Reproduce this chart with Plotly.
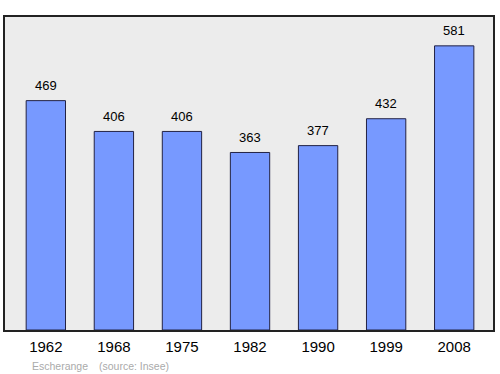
import plotly.graph_objects as go

years = ["1962", "1968", "1975", "1982", "1990", "1999", "2008"]
population = [469, 406, 406, 363, 377, 432, 581]
footer_place = "Escherange"
footer_source = "(source: Insee)"

xs = list(range(len(years)))

fig = go.Figure()
fig.add_trace(go.Bar(
    x=xs, y=population, width=0.578,
    marker=dict(color="#7799ff", line=dict(color="#222244", width=1)),
    hoverinfo="skip",
))

for x, v in zip(xs, population):
    fig.add_annotation(x=x, y=v, text=str(v), showarrow=False, yshift=15,
                       font=dict(family="Liberation Sans, Arial", size=13, color="#000"))

fig.update_layout(
    width=500, height=374,
    margin=dict(l=5, r=5, t=17, b=44),
    paper_bgcolor="white", plot_bgcolor="#ececec",
    showlegend=False,
    xaxis=dict(range=[-0.6, 6.57], tickmode="array", tickvals=xs, ticktext=years,
               showgrid=False, zeroline=False, showline=True, mirror=True,
               linecolor="#222", linewidth=1.5, ticks="", ticklen=0,
               ticklabelstandoff=2,
               tickfont=dict(family="Liberation Sans, Arial", size=15, color="#000"),
               fixedrange=True),
    yaxis=dict(range=[0, 640], showgrid=False, zeroline=False, showticklabels=False,
               showline=True, mirror=True, linecolor="#222", linewidth=1.5, ticks="",
               fixedrange=True),
)

pw, ph = 490, 313
def px_to_paper(px, py):
    return (px - 5) / pw, (330 - py) / ph

fx, fy = px_to_paper(31, 365.5)
fig.add_annotation(x=fx, y=fy, xref="paper", yref="paper", text=footer_place,
                   showarrow=False, xanchor="left", yanchor="middle", xshift=-1,
                   font=dict(family="Liberation Sans, Arial", size=10.5, color="#aaaaaa"))
fx2, _ = px_to_paper(98, 365.5)
fig.add_annotation(x=fx2, y=fy, xref="paper", yref="paper", text=footer_source,
                   showarrow=False, xanchor="left", yanchor="middle", xshift=-1,
                   font=dict(family="Liberation Sans, Arial", size=10.5, color="#aaaaaa"))

fig.write_html("out.html", config={"displayModeBar": False})
